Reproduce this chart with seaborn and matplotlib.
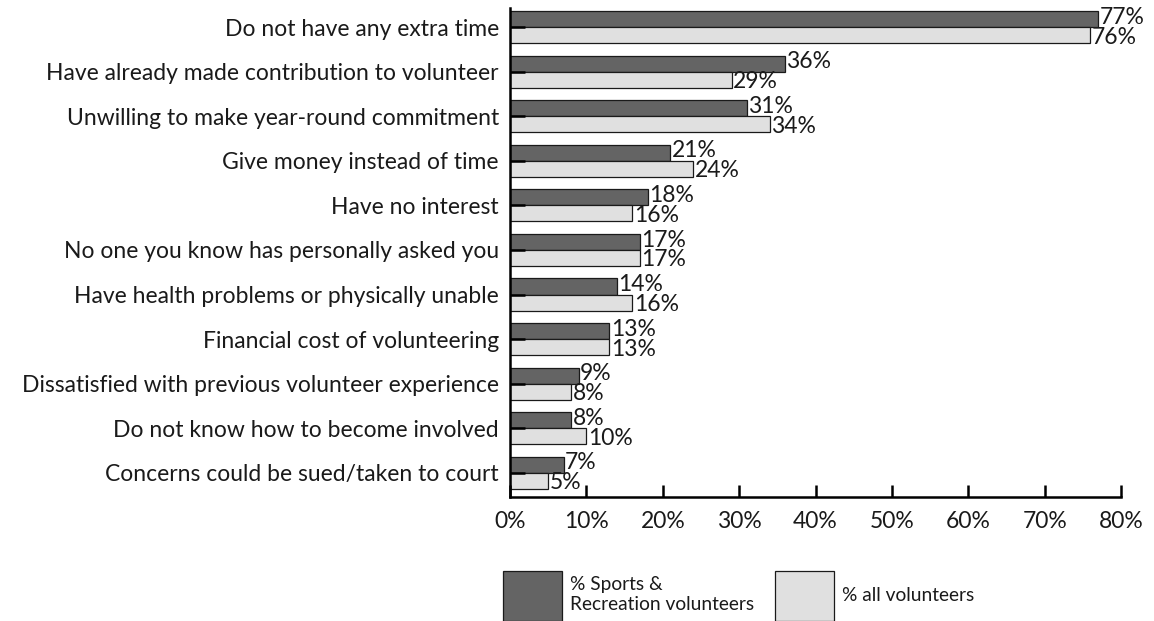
import matplotlib
matplotlib.use("Agg")
import matplotlib.pyplot as plt
import seaborn as sns
import pandas as pd
from matplotlib.patches import Patch

reasons = [
    "Do not have any extra time",
    "Have already made contribution to volunteer",
    "Unwilling to make year-round commitment",
    "Give money instead of time",
    "Have no interest",
    "No one you know has personally asked you",
    "Have health problems or physically unable",
    "Financial cost of volunteering",
    "Dissatisfied with previous volunteer experience",
    "Do not know how to become involved",
    "Concerns could be sued/taken to court",
]
sports_rec = [77, 36, 31, 21, 18, 17, 14, 13, 9, 8, 7]
all_vol = [76, 29, 34, 24, 16, 17, 16, 13, 8, 10, 5]
series_names = ["% Sports &\nRecreation volunteers", "% all volunteers"]
x_ticks = [0, 10, 20, 30, 40, 50, 60, 70, 80]

df = pd.DataFrame({
    "reason": reasons * 2,
    "value": sports_rec + all_vol,
    "group": [series_names[0]] * len(reasons) + [series_names[1]] * len(reasons),
})

sns.set_theme(style="white")
plt.rcParams["font.family"] = ["Lato", "DejaVu Sans"]
FS = 16.5
LEG_FS = 13.8
TXT = "#1a1a1a"

colors = ["#646464", "#e0e0e0"]
fig = plt.figure(figsize=(11.54, 6.21), dpi=100)
ax = fig.add_axes([0.442, 0.2, 0.9714 - 0.442, 0.987 - 0.2])

sns.barplot(data=df, y="reason", x="value", hue="group", order=reasons,
            hue_order=series_names, palette=colors, width=0.72,
            edgecolor="#1a1a1a", linewidth=0.9, legend=False, ax=ax)

# value labels: nudge the pair apart so they don't collide
for cont, dy in zip(ax.containers, [1.4, -1.4]):
    anns = ax.bar_label(cont, labels=[f"{v:.0f}%" for v in cont.datavalues],
                        padding=1, fontsize=FS, color=TXT)
    for a in anns:
        a.xyann = (1, dy)

ax.set_xlim(0, 80)
ax.set_ylim(10.54, -0.43)
ax.set_xticks(x_ticks)
ax.set_xticklabels([f"{t}%" for t in x_ticks], fontsize=FS)
ax.set_yticks(range(len(reasons)))
ax.set_yticklabels(reasons, fontsize=FS)
ax.set_xlabel("")
ax.set_ylabel("")
ax.set_axisbelow(False)

for s in ["top", "right"]:
    ax.spines[s].set_visible(False)
for s in ["left", "bottom"]:
    ax.spines[s].set_color("black")
    ax.spines[s].set_linewidth(1.8)

ax.tick_params(axis="x", bottom=True, direction="in", length=9, width=1.8,
               color="black", pad=10, labelcolor=TXT)
ax.tick_params(axis="y", left=True, direction="in", length=11, width=1.8,
               color="black", pad=8, labelcolor=TXT)
ax.grid(False)

# Legend entries placed individually below the plot
legend_x = [503 / 1154, 775 / 1154]
for name, c, lx in zip(series_names, colors, legend_x):
    h = Patch(facecolor=c, edgecolor="#1a1a1a", linewidth=0.9)
    fig.legend([h], [name], loc="center left",
               bbox_to_anchor=(lx, 1 - 596 / 621), frameon=False,
               fontsize=LEG_FS, handlelength=3.1, handleheight=3.6,
               handletextpad=0.4, borderaxespad=0, borderpad=0,
               labelcolor=TXT)

fig.savefig("out.png", dpi=100)
